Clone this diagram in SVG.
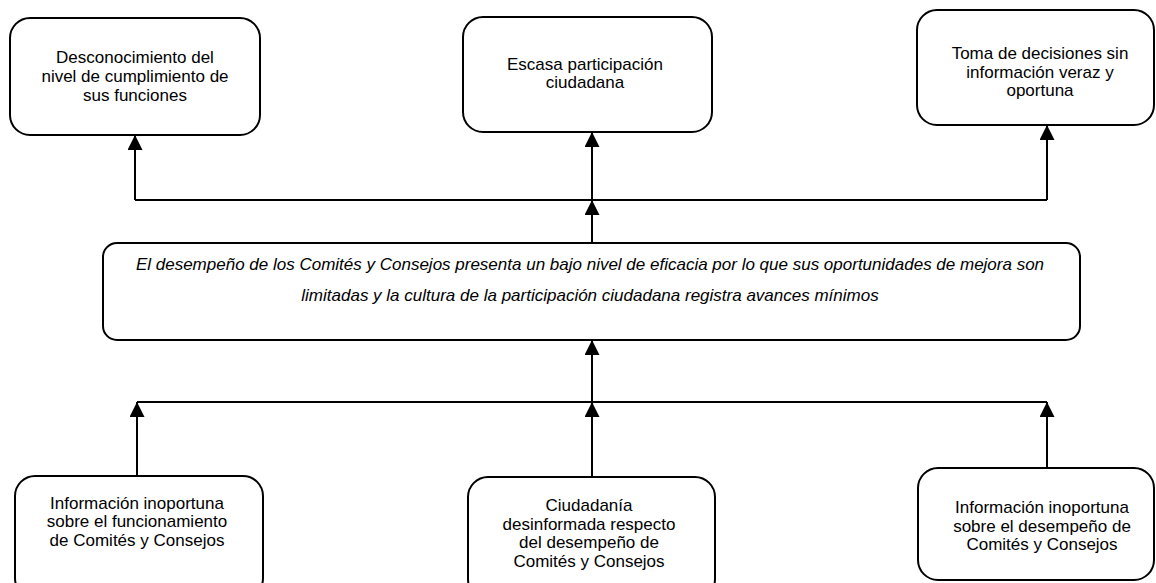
<svg xmlns="http://www.w3.org/2000/svg" width="1156" height="583" viewBox="0 0 1156 583">
<defs>
<marker id="arr" markerUnits="userSpaceOnUse" markerWidth="15" markerHeight="15" refX="15" refY="7.5" orient="auto">
<path d="M0,0 L15,7.5 L0,15 z" fill="#000"/>
</marker>
<style>
.box{fill:#fff;stroke:#000;stroke-width:2}
.t{font-family:"Liberation Sans",Arial,sans-serif;font-size:17px;fill:#000;text-anchor:middle}
.it{font-style:italic}
.c{fill:none;stroke:#000;stroke-width:2}
.a{marker-end:url(#arr)}
</style>
</defs>
<rect width="1156" height="583" fill="#fff"/>
<g id="connectors">
<path class="c" d="M135,200 H1047"/>
<path class="c a" d="M135,200 V135"/>
<path class="c a" d="M592,200 V132"/>
<path class="c a" d="M1047,200 V125"/>
<path class="c a" d="M592,243 V200"/>
<path class="c" d="M137,402 H1047"/>
<path class="c a" d="M137,476 V402"/>
<path class="c a" d="M592,477 V402"/>
<path class="c a" d="M1047,468 V402"/>
<path class="c a" d="M592,402 V340"/>
</g>
<g id="n1">
<rect class="box" x="10" y="18" width="250" height="117" rx="20"/>
<text class="t" x="135" y="63">Desconocimiento del</text>
<text class="t" x="135" y="82">nivel de cumplimiento de</text>
<text class="t" x="135" y="101">sus funciones</text>
</g>
<g id="n2">
<rect class="box" x="463" y="17" width="249" height="115" rx="20"/>
<text class="t" x="585" y="70">Escasa participación</text>
<text class="t" x="585" y="88">ciudadana</text>
</g>
<g id="n3">
<rect class="box" x="917" y="10" width="237" height="115" rx="20"/>
<text class="t" x="1040" y="59">Toma de decisiones sin</text>
<text class="t" x="1040" y="78">información veraz y</text>
<text class="t" x="1040" y="96">oportuna</text>
</g>
<g id="n4">
<rect class="box" x="103" y="243" width="977" height="97" rx="14"/>
<text class="t it" x="590" y="270">El desempeño de los Comités y Consejos presenta un bajo nivel de eficacia por lo que sus oportunidades de mejora son</text>
<text class="t it" x="590" y="301">limitadas y la cultura de la participación ciudadana registra avances mínimos</text>
</g>
<g id="n5">
<rect class="box" x="15" y="476" width="248" height="122" rx="20"/>
<text class="t" x="137" y="509">Información inoportuna</text>
<text class="t" x="137" y="527">sobre el funcionamiento</text>
<text class="t" x="137" y="546">de Comités y Consejos</text>
</g>
<g id="n6">
<rect class="box" x="468" y="477" width="247" height="122" rx="20"/>
<text class="t" x="589" y="511">Ciudadanía</text>
<text class="t" x="589" y="529.5">desinformada respecto</text>
<text class="t" x="589" y="548">del desempeño de</text>
<text class="t" x="589" y="566.5">Comités y Consejos</text>
</g>
<g id="n7">
<rect class="box" x="918" y="468" width="236" height="112" rx="20"/>
<text class="t" x="1042" y="513">Información inoportuna</text>
<text class="t" x="1042" y="532">sobre el desempeño de</text>
<text class="t" x="1042" y="550">Comités y Consejos</text>
</g>
</svg>
